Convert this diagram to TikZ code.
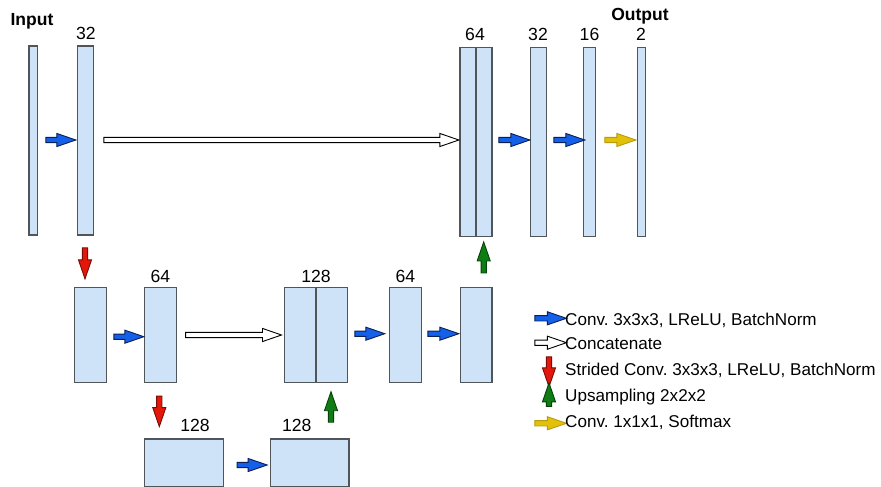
\documentclass[tikz,border=0pt]{standalone}
\usepackage{fontspec}
\setmainfont{Liberation Sans}
\usetikzlibrary{shapes.arrows}
\frenchspacing
\definecolor{boxfill}{HTML}{CFE3F8}
\definecolor{boxline}{HTML}{50555A}
\definecolor{cblue}{HTML}{1560E8}
\definecolor{cbluel}{HTML}{0A1F55}
\definecolor{cred}{HTML}{E3170A}
\definecolor{credl}{HTML}{7A0C05}
\definecolor{cgreen}{HTML}{0E7D14}
\definecolor{cgreenl}{HTML}{08400A}
\definecolor{cyel}{HTML}{E2C208}
\definecolor{cyell}{HTML}{B89A10}
\begin{document}
\begin{tikzpicture}[x=1pt,y=-1pt,
  box/.style={draw=boxline, fill=boxfill, line width=1.2pt, inner sep=0pt},
  lbl/.style={anchor=base, inner sep=0pt, font=\fontsize{17.6}{18}\selectfont},
  ttl/.style={anchor=base, inner sep=0pt, font=\fontsize{17.5}{18}\selectfont\bfseries},
  leg/.style={anchor=base west, inner sep=0pt, font=\fontsize{17.1}{17}\selectfont},
  barr/.style={single arrow, inner sep=0pt, inner ysep=2.2pt, single arrow head extend=3.9pt,
     single arrow tip angle=38, single arrow head indent=0pt, line width=0.9pt, minimum height=#1},
  blu/.style={barr=#1, fill=cblue, draw=cbluel},
  wht/.style={barr=#1, fill=white, draw=black},
  rdd/.style={barr=#1, fill=cred, draw=credl, rotate=-90},
  grn/.style={barr=#1, fill=cgreen, draw=cgreenl, rotate=90},
  yel/.style={barr=#1, fill=cyel, draw=cyell}]
\useasboundingbox (0,0) rectangle (881,487);
% top row
\node[box, minimum width=8.3, minimum height=189] (in) at (33.2,140.5) {};
\node[box, minimum width=16, minimum height=189] (c32) at (85.7,140.5) {};
\node[box, minimum width=16, minimum height=188.5] (d64a) at (468,141.9) {};
\node[box, minimum width=16, minimum height=188.5] (d64b) at (484,141.9) {};
\node[box, minimum width=16, minimum height=188.5] (u32) at (538.7,141.9) {};
\node[box, minimum width=11.6, minimum height=188.5] (u16) at (589.5,141.9) {};
\node[box, minimum width=8.4, minimum height=188.5] (out) at (641.5,141.9) {};
% row 2
\node[box, minimum width=32, minimum height=95] (bA) at (90.3,335.2) {};
\node[box, minimum width=32, minimum height=95] (bB) at (160.7,335.2) {};
\node[box, minimum width=31.7, minimum height=95] (bC1) at (300.2,335.2) {};
\node[box, minimum width=31.7, minimum height=95] (bC2) at (331.8,335.2) {};
\node[box, minimum width=32, minimum height=95] (bD) at (405.3,335.2) {};
\node[box, minimum width=31.7, minimum height=95] (bE) at (476.2,335.2) {};
% row 3
\node[box, minimum width=79, minimum height=47.3] (bF) at (184.2,462.7) {};
\node[box, minimum width=78.7, minimum height=47.3] (bG) at (309.7,462.7) {};
% labels
\node[ttl] (tin) at (32,26) {Input};
\node[ttl] (tout) at (640,20.7) {Output};
\node[lbl] (l32) at (86,39.5) {32};
\node[lbl] (l64) at (475,41) {64};
\node[lbl] (l32b) at (538,40.5) {32};
\node[lbl] (l16) at (589.5,40.5) {16};
\node[lbl] (l2) at (641,40.5) {2};
\node[lbl] (lB) at (160.5,282.5) {64};
\node[lbl] (lC) at (316,282.5) {128};
\node[lbl] (lD) at (405.3,282.5) {64};
\node[lbl] (lF) at (195,431.7) {128};
\node[lbl] (lG) at (296.7,431.7) {128};
% arrows
\node[blu=30] (a1) at (57,140) {};
\node[wht=355] (k1) at (277.5,140) {};
\node[blu=31] (a2) at (510.5,140) {};
\node[blu=31] (a3) at (565.5,140) {};
\node[yel=31] (y1) at (616.5,140) {};
\node[rdd=31] (r1) at (85,259.5) {};
\node[blu=30] (a4) at (125,336.7) {};
\node[wht=96] (k2) at (229.7,335) {};
\node[blu=30] (a5) at (366,333.7) {};
\node[blu=31] (a6) at (439.5,333.7) {};
\node[grn=31] (g1) at (483.7,261.3) {};
\node[rdd=30.5] (r2) at (159.3,407.5) {};
\node[blu=30] (a7) at (248.3,465) {};
\node[grn=30.5] (g2) at (331,410.8) {};
% legend
\node[blu=31.5] (la) at (546.8,318.3) {};
\node[wht=31.5] (lk) at (546.8,342.7) {};
\node[rdd=30] (lr) at (549,368) {};
\node[grn=23.5] (lg) at (549,398.5) {};
\node[yel=31.5] (ly) at (546.8,423.3) {};
\node[leg] (ta) at (565,325) {Conv. 3x3x3, LReLU, BatchNorm};
\node[leg] (tk) at (565,349.3) {Concatenate};
\node[leg] (tr) at (565,375.7) {Strided Conv. 3x3x3, LReLU, BatchNorm};
\node[leg] (tg) at (565,401.7) {Upsampling 2x2x2};
\node[leg] (ty) at (565,427.3) {Conv. 1x1x1, Softmax};
\end{tikzpicture}
\end{document}
